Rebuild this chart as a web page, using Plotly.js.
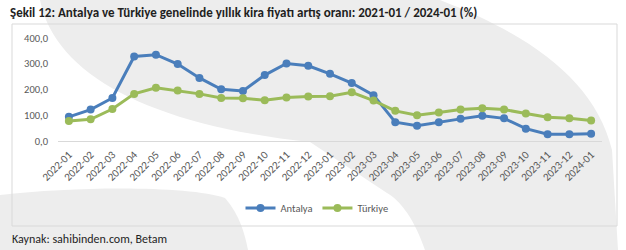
<!DOCTYPE html>
<html>
<head>
<meta charset="utf-8">
<script src="https://cdn.plot.ly/plotly-3.0.1.min.js"></script>
<style>
  html, body { margin: 0; padding: 0; background: #ffffff; }
  #chart { width: 626px; height: 250px; }
</style>
</head>
<body>
<div id="chart"></div>
<script>
const months = ["2022-01","2022-02","2022-03","2022-04","2022-05","2022-06","2022-07","2022-08","2022-09","2022-10","2022-11","2022-12",
                "2023-01","2023-02","2023-03","2023-04","2023-05","2023-06","2023-07","2023-08","2023-09","2023-10","2023-11","2023-12","2024-01"];
const antalya = [94,122,167,328,335,299,245,201,194,256,301,292,261,225,178,73,59,73,86,98,88,48,26,26,28];
const turkiye = [78,84,124,183,207,196,183,167,166,158,169,173,174,189,157,117,100,111,122,127,122,107,92,88,80];
const yTicks = [0,100,200,300,400];

const FONT = 'Carlito, Lato, sans-serif';
const W = 626, H = 250, L = 58, R = 24, T = 38, B = 109;
const pw = W - L - R, ph = H - T - B;
function p(x, y) { return ((x - L) / pw).toFixed(4) + ',' + ((H - B - y) / ph).toFixed(4); }
function px(x) { return (x - L) / pw; }
function py(y) { return (H - B - y) / ph; }

const wm = '#ededed';
const shapes = [
  { type: 'path', xref: 'paper', yref: 'paper', layer: 'below', fillcolor: wm, line: { width: 0 },
    path: `M${p(40,0)} L${p(440,0)} C${p(530,35)} ${p(595,80)} ${p(612,150)} L${p(618,250)} L${p(425,250)} C${p(415,220)} ${p(400,200)} ${p(387,193)} L${p(310,142)} C${p(150,125)} ${p(55,75)} ${p(40,0)} Z` },
  { type: 'path', xref: 'paper', yref: 'paper', layer: 'below', fillcolor: wm, line: { width: 0 },
    path: `M${p(0,195)} C${p(80,186)} ${p(190,186)} ${p(225,198)} C${p(240,215)} ${p(245,235)} ${p(248,250)} L${p(0,250)} Z` },
  { type: 'rect', xref: 'paper', yref: 'paper', layer: 'below', fillcolor: 'rgba(0,0,0,0)',
    line: { color: '#d9d9d9', width: 1 }, x0: px(12), x1: px(617), y0: py(226), y1: py(24) }
];

const traces = [
  { x: months, y: antalya, name: 'Antalya', type: 'scatter', mode: 'lines+markers',
    line: { color: '#4a7ebb', width: 3 }, marker: { color: '#4a7ebb', size: 8 } },
  { x: months, y: turkiye, name: 'Türkiye', type: 'scatter', mode: 'lines+markers',
    line: { color: '#9bbb59', width: 3 }, marker: { color: '#9bbb59', size: 8 } }
];

const layout = {
  width: W, height: H,
  margin: { l: L, r: R, t: T, b: B, pad: 0 },
  paper_bgcolor: '#ffffff',
  plot_bgcolor: 'rgba(0,0,0,0)',
  separators: ',.',
  font: { family: FONT, color: '#595959', size: 10 },
  title: { text: 'Şekil 12: Antalya ve Türkiye genelinde yıllık kira fiyatı artış oranı: 2021-01 / 2024-01 (%)',
           font: { family: FONT, size: 13, color: '#1f1f1f', weight: 'bold' },
           x: 10 / W, xref: 'container', xanchor: 'left', y: 1 - 12 / H, yref: 'container', yanchor: 'middle' },
  xaxis: { type: 'category', tickangle: -45, showgrid: false, zeroline: false,
           showline: true, linecolor: '#d9d9d9', linewidth: 1, ticks: '', ticklabelstandoff: 2,
           tickfont: { size: 11, color: '#595959' }, range: [-0.5, months.length - 0.5] },
  yaxis: { range: [0, 400], tickvals: yTicks, tickformat: '.1f', showgrid: false, zeroline: false,
           showline: false, ticks: '', ticklabelstandoff: 9, tickfont: { size: 10.5, color: '#595959' } },
  legend: { orientation: 'h', x: px(317), xanchor: 'center', y: py(208), yanchor: 'middle',
            font: { size: 10.5, color: '#595959' }, bgcolor: 'rgba(0,0,0,0)', itemwidth: 30 },
  showlegend: true,
  shapes: shapes,
  annotations: [
    { text: 'Kaynak: sahibinden.com, Betam', xref: 'paper', yref: 'paper', x: px(10), y: py(239),
      xanchor: 'left', yanchor: 'middle', showarrow: false, font: { size: 12, color: '#1f1f1f' } }
  ]
};

Plotly.newPlot('chart', traces, layout, { displayModeBar: false, staticPlot: true });
</script>
</body>
</html>
